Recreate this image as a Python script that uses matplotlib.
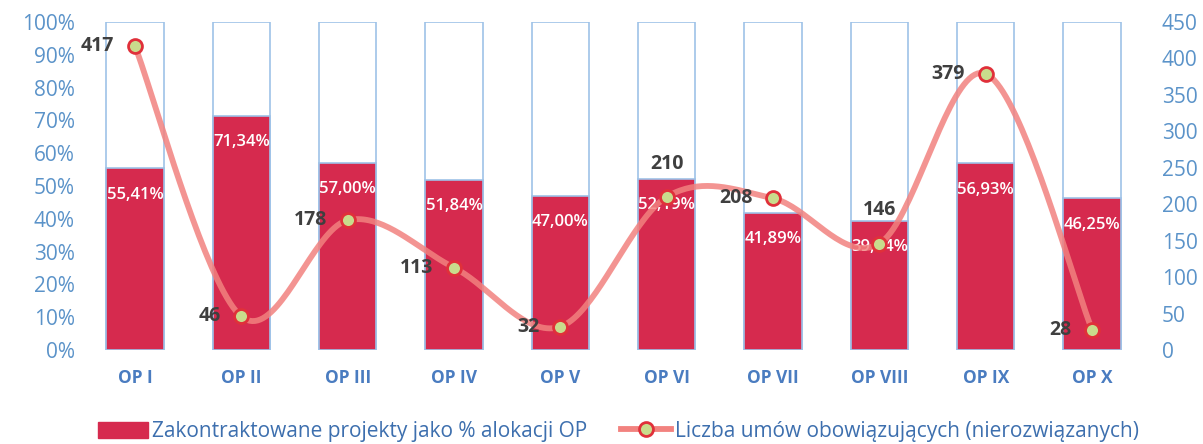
import numpy as np
import matplotlib.pyplot as plt
from matplotlib.lines import Line2D
from matplotlib.patches import Patch

categories = ['OP I', 'OP II', 'OP III', 'OP IV', 'OP V', 'OP VI', 'OP VII', 'OP VIII', 'OP IX', 'OP X']
contracted_pct = [55.41, 71.34, 57.00, 51.84, 47.00, 52.19, 41.89, 39.44, 56.93, 46.25]
contracts = [417, 46, 178, 113, 32, 210, 208, 146, 379, 28]
# where the number label of each point goes: 'left' or 'above'
label_side = ['left', 'left', 'left', 'left', 'left', 'above', 'left', 'above', 'left', 'left']

bar_red = '#d62a4e'
outline_blue = '#9ec2e8'
tick_blue = '#5b93c9'
line_pink = '#f2827f'

plt.rcParams['font.family'] = ['Open Sans', 'DejaVu Sans']

fig = plt.figure(figsize=(12.03, 4.44), dpi=100)
ax = fig.add_axes([0.068, 0.2117, 0.884, 0.7388])
ax2 = ax.twinx()

x = np.arange(len(categories))
w = 0.54

# white 100% bars with blue outline, then the red filled part
ax.bar(x, [100] * len(x), width=w, color='white', edgecolor=outline_blue, linewidth=1.2, zorder=1)
ax.bar(x, contracted_pct, width=w, color=bar_red, edgecolor=outline_blue, linewidth=1.2, zorder=2)
for xi, v in zip(x, contracted_pct):
    ax.annotate(f'{v:.2f}%'.replace('.', ','), (xi, v), xytext=(0, -19), textcoords='offset points',
                ha='center', va='center', color='white', fontsize=12, fontweight='semibold', zorder=3)

ax.set_xlim(-0.5, len(x) - 0.5)
ax.set_ylim(0, 100)
ax.set_yticks(range(0, 101, 10))
ax.set_yticklabels([f'{t}%' for t in range(0, 101, 10)])
ax.set_xticks(x)
ax.set_xticklabels(categories, fontweight='bold', color='#4a7cc0', fontsize=12.5)
ax.tick_params(axis='y', colors=tick_blue, labelsize=15, length=0, pad=5)
ax.tick_params(axis='x', length=0, pad=14)

# smooth line (Catmull-Rom style, like the spreadsheet "smoothed line"), done in pixel-like space
px_x, px_y = 106.3, 0.733
P = np.column_stack([x * px_x, np.array(contracts) * px_y])
pts = np.vstack([P[0], P, P[-1]])
curve = []
t = np.linspace(0, 1, 40)[:, None]
for i in range(1, len(pts) - 2):
    p0, p1, p2, p3 = pts[i - 1], pts[i], pts[i + 1], pts[i + 2]
    c1 = p1 + (p2 - p0) / 6
    c2 = p2 - (p3 - p1) / 6
    seg = (1 - t) ** 3 * p1 + 3 * (1 - t) ** 2 * t * c1 + 3 * (1 - t) * t ** 2 * c2 + t ** 3 * p2
    curve.append(seg)
curve = np.vstack(curve)
ax2.plot(curve[:, 0] / px_x, curve[:, 1] / px_y, color=line_pink, lw=4.2, alpha=0.85,
         solid_capstyle='round', zorder=4)
ax2.plot(x, contracts, ls='none', marker='o', ms=10, mfc='#c9dc8c', mec='#e0303a', mew=2, zorder=5)

for xi, v, side in zip(x, contracts, label_side):
    if side == 'left':
        ax2.annotate(str(v), (xi, v), xytext=(-15, 0), textcoords='offset points',
                     ha='right', va='center', color='#3f3f3f', fontsize=14, fontweight='bold', zorder=6)
    else:
        ax2.annotate(str(v), (xi, v), xytext=(0, 24), textcoords='offset points',
                     ha='center', va='center', color='#3f3f3f', fontsize=14, fontweight='bold', zorder=6)

ax2.set_ylim(0, 450)
ax2.set_yticks(range(0, 451, 50))
ax2.tick_params(axis='y', colors=tick_blue, labelsize=15, length=0, pad=12)

for a in (ax, ax2):
    for s in a.spines.values():
        s.set_visible(False)

handles = [Patch(facecolor=bar_red, edgecolor=bar_red),
           Line2D([0], [0], color=line_pink, lw=4.2, marker='o', ms=10, mfc='#c9dc8c', mec='#e0303a', mew=2)]
labels = ['Zakontraktowane projekty jako % alokacji OP', 'Liczba umów obowiązujących (nierozwiązanych)']
leg = fig.legend(handles, labels, loc='center', bbox_to_anchor=(0.514, 0.028), ncol=2, frameon=False,
                 fontsize=15, handlelength=2.4, handleheight=0.8, columnspacing=1.6, handletextpad=0.2)
for txt in leg.get_texts():
    txt.set_color('#3d6fae')

fig.savefig('out.png', dpi=100)
